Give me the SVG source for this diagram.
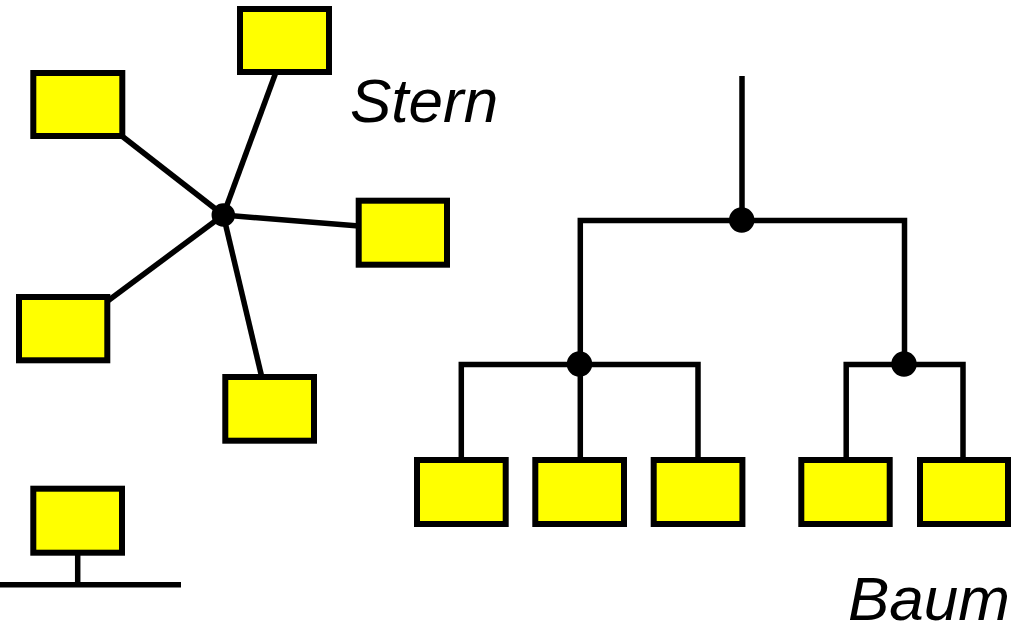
<svg xmlns="http://www.w3.org/2000/svg" width="1019" height="626" viewBox="0 0 1019 626">
  <style>
    .node rect { fill: #ffff00; stroke: #000; stroke-width: 6; }
    .wire { fill: none; stroke: #000; stroke-width: 5.5; stroke-linejoin: miter; }
    .dot { fill: #000; }
    .label { font-family: "Liberation Sans", Arial, sans-serif; font-style: italic; font-size: 62px; fill: #000; }
  </style>
  <rect width="1019" height="626" fill="#fff"/>

  <!-- connectors -->
  <g id="connectors" class="wire">
    <!-- star: spokes from the hub -->
    <line x1="223.3" y1="215" x2="118" y2="133"/>
    <line x1="223.3" y1="215" x2="276" y2="72"/>
    <line x1="223.3" y1="215" x2="359" y2="226"/>
    <line x1="223.3" y1="215" x2="105" y2="303"/>
    <line x1="223.3" y1="215" x2="262" y2="378"/>
    <!-- bus -->
    <line x1="77.7" y1="552" x2="77.7" y2="584.7"/>
    <line x1="0" y1="584.7" x2="181" y2="584.7"/>
    <!-- tree -->
    <line x1="742" y1="76" x2="742" y2="220.5"/>
    <path d="M580.3 460 V220.5 H904.5 V364.5"/>
    <path d="M461.3 460 V364.5 H698 V460"/>
    <path d="M846.2 460 V364.5 H963 V460"/>
    <circle class="dot" cx="223.3" cy="215" r="9"/>
    <circle class="dot" cx="741.7" cy="220" r="10"/>
    <circle class="dot" cx="579.5" cy="364" r="10"/>
    <circle class="dot" cx="904" cy="364" r="10"/>
  </g>

  <!-- star nodes -->
  <g id="star-top" class="node"><rect x="240" y="9" width="89" height="63"/></g>
  <g id="star-topleft" class="node"><rect x="33.3" y="73" width="89" height="63"/></g>
  <g id="star-right" class="node"><rect x="358.7" y="200.7" width="88.3" height="64"/></g>
  <g id="star-lowerleft" class="node"><rect x="19" y="297" width="88.3" height="63.3"/></g>
  <g id="star-bottom" class="node"><rect x="225.3" y="377" width="88.7" height="63.7"/></g>

  <!-- bus node -->
  <g id="bus-node" class="node"><rect x="33.3" y="488.7" width="88.7" height="64"/></g>

  <!-- tree leaves -->
  <g id="tree-leaf-1" class="node"><rect x="417" y="460" width="88.7" height="64"/></g>
  <g id="tree-leaf-2" class="node"><rect x="535.3" y="460" width="88.7" height="64"/></g>
  <g id="tree-leaf-3" class="node"><rect x="653.7" y="460" width="88.7" height="64"/></g>
  <g id="tree-leaf-4" class="node"><rect x="801.3" y="460" width="88.4" height="64"/></g>
  <g id="tree-leaf-5" class="node"><rect x="920" y="460" width="88" height="64"/></g>

  <!-- labels -->
  <text class="label" x="350" y="121.7">Stern</text>
  <text class="label" x="848" y="620">Baum</text>
</svg>
